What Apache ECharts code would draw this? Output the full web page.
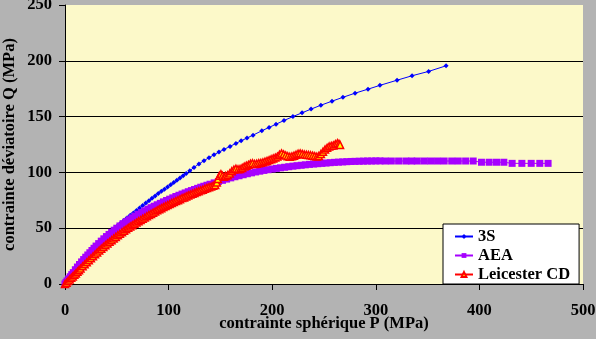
<!DOCTYPE html>
<html>
<head>
<meta charset="utf-8">
<script src="https://cdn.jsdelivr.net/npm/echarts@6/dist/echarts.min.js"></script>
<style>
html,body{margin:0;padding:0;background:#b3b3b3;}
#c{width:596px;height:339px;}
</style>
</head>
<body>
<div id="c"></div>
<script>
// ---- data (MPa) ----
const seriesNames = ['3S', 'AEA', 'Leicester CD'];
const xTicks = [0, 100, 200, 300, 400, 500];
const yTicks = [0, 50, 100, 150, 200, 250];

const p3S = [0,1.5,3,4.5,6,8,10,12,14,16,18,20,22.5,25,27.5,30,33,36,39,42,45,48,51,54,57,60,63,66,69,72,75,78,81,84,87,90,93,96,99,102,105,108,111,114,117,120.5,
  124.5,129.3,134.2,139,143.8,148.6,153.5,159.3,165,170,175.7,181.5,190,197,203.7,211.4,220,228.8,237.5,247,257.7,268.3,280,292.5,304,320.5,335,351,367.8];
const q3S = [0,2,4,6,7.9,10.4,12.8,15.2,17.5,19.7,21.9,24,26.6,29.1,31.6,34,36.8,39.6,42.3,44.9,47.5,50,52.4,54.8,57.1,59.3,61.5,63.7,65.9,68.1,70.3,72.5,74.7,76.8,78.9,81,83,85,87,89,91,93,95,97,99,101.5,
  104.5,107.6,110.5,113.2,115.8,118.2,120.6,123.3,126,128.3,130.8,133.4,137.3,140.3,143.2,146.5,150,153.4,156.7,160.2,163.8,167.3,171,174.6,178,182.6,186.6,190.5,195.5];

const pAEA = [0,1,2,3.5,5,6.5,8,10,12,14,16,18,20,22,24,26,28,30,32.5,35,37.5,40,42.5,45,47.5,50,53,56,59,62,65,68,71,74,77,80,83,86,89,92,95,98,101,104,107,110,113,116,119,122,125,128,131,134,137,140,144,148,152,156,160,164,168,172,176,180,184,188,192,196,200,204,208,212,216,220,224,228,232,236,240,244,248,252,256,260,264,268,272,276,280,284,288,292,296,300,304,
  309,315,322,329,334.6,340,346.7,353,359.6,366,373.3,379.6,386.7,394,402,409.4,416.5,423.6,431.6,441,450,458.3,466.3];
const qAEA = [0,1.4,2.7,4.6,6.5,8.4,10.2,12.8,15.2,17.5,19.8,21.9,24,26,28,30,32,34,36.2,38.4,40.5,42.5,44.4,46.3,48.2,50,52,54,55.8,57.6,59.3,60.9,62.5,64,65.5,67,68.4,69.7,71,72.3,73.6,74.8,76,77.2,78.4,79.5,80.6,81.6,82.7,83.7,84.7,85.7,86.7,87.6,88.5,89.4,90.6,91.8,92.9,94,95.1,96.1,97,97.9,98.8,99.6,100.4,101.1,101.8,102.4,103,103.6,104.1,104.6,105.1,105.6,106,106.4,106.8,107.2,107.5,107.8,108.1,108.4,108.7,109,109.2,109.4,109.6,109.8,109.9,110,110.1,110.2,110.2,110.3,110.3,
  110.2,110.2,110.2,110.2,110.2,110.2,110.2,110.2,110.2,110.2,110.2,110.2,110.2,110.2,109.1,109.1,109.1,109.1,108.1,108.1,108.1,108.1,108.1];

const pLeic = [0,1.5,3,4.5,6,7.5,9,10.5,12,13.5,15,17,19,21,23,25,27,29,31,33,35,37,39,41,43,45,47,49,51,53,55,57,59,61,63,65,67,69,71,73,75,77,79,81,83,85,87,89,91,93,95,97,99,101,103,105,107,109,111,113,115,117,119,121,123,125,127,129,131,133,135,137,139,141,143,145,146.5,147.5,149,150.5,152,153.5,155,157,159,161,163,165,167,169,171,173,175,177,179,181,183,185,187,189,191,193,195,197,199,201,203,205,207,209,211,213,215,217,219,221,223,225,227,229,231,233,235,237,239,241,243,245,247,249,251,253,255,257,259,261,263,264.5,265.5];
const qLeic = [0,1.2,2.8,4,5.5,6.8,8.2,9.5,11,12.3,13.8,15.8,17.6,19.4,21.2,23,24.8,26.6,28.3,30,31.6,33.2,34.8,36.3,37.8,39.3,40.8,42.2,43.7,45,46.4,47.8,49,50.3,51.5,52.6,53.9,55,56.2,57.3,58.5,59.5,60.7,61.8,62.8,63.9,64.9,66,67,67.9,68.9,69.8,70.7,71.6,72.6,73.4,74.3,75.1,76,77,77.6,78.5,79.4,80.1,80.9,81.6,82.4,83.1,83.9,84.5,85.4,86.1,86.8,87.3,88,88.8,91,94,97,98.5,97,96,96.8,97.5,99,101,102.5,103.3,102.8,103,104,105.2,106,106.8,107.8,108.2,107.5,107.8,108.3,108.6,109,109.7,110.3,111,111.8,112.5,113.3,114.2,115.8,117,116.2,115.2,114.5,114,114.4,115,115.8,116.7,117.1,116.6,116,115.8,115.6,115.4,115,114.6,114.2,114.8,116.5,118.5,120.5,122,123.2,123.8,124.2,125.4,126.2,125.6,124.6];

function zip(a, b) { return a.map((v, i) => [v, b[i]]); }

const chart = echarts.init(document.getElementById('c'), null, {renderer: 'canvas'});
const serif = '"Liberation Serif", "Times New Roman", serif';
const txt = {fontFamily: serif, fontSize: 16.5, fontWeight: 'bold', color: '#000'};

chart.setOption({
  animation: false,
  backgroundColor: '#b3b3b3',
  textStyle: {fontFamily: serif},
  grid: {
    left: 65, right: 13, top: 5, bottom: 55,
    containLabel: false, outerBoundsMode: 'none',
    show: true, backgroundColor: '#fcf9c9', borderWidth: 0
  },
  legend: {
    orient: 'vertical',
    left: 443, top: 224,
    padding: [4, 9, 1, 11],
    itemGap: 2,
    itemWidth: 18,
    itemHeight: 6,
    backgroundColor: '#ffffff',
    borderColor: '#000000',
    borderWidth: 1,
    borderRadius: 0,
    textStyle: Object.assign({}, txt, {lineHeight: 17}),
    data: seriesNames
  },
  xAxis: {
    type: 'value',
    min: xTicks[0], max: xTicks[xTicks.length - 1], interval: 100,
    name: 'contrainte sphérique P (MPa)',
    nameLocation: 'middle',
    nameGap: 31,
    nameMoveOverlap: false,
    nameTextStyle: txt,
    axisLine: {show: true, onZero: false, lineStyle: {color: '#000', width: 1}},
    axisTick: {show: true, inside: false, length: 6, lineStyle: {color: '#000'}},
    axisLabel: Object.assign({}, txt, {margin: 18, showMinLabel: true, showMaxLabel: true}),
    splitLine: {show: false}
  },
  yAxis: {
    type: 'value',
    min: yTicks[0], max: yTicks[yTicks.length - 1], interval: 50,
    name: 'contrainte déviatoire Q (MPa)',
    nameLocation: 'middle',
    nameGap: 47,
    nameMoveOverlap: false,
    nameTextStyle: txt,
    axisLine: {show: true, onZero: false, lineStyle: {color: '#000', width: 1}},
    axisTick: {show: true, inside: false, length: 6, lineStyle: {color: '#000'}},
    axisLabel: Object.assign({}, txt, {margin: 13, showMinLabel: true, showMaxLabel: true}),
    splitLine: {show: true, showMinLine: false, showMaxLine: false, lineStyle: {color: '#000', width: 1}}
  },
  series: [
    {
      name: seriesNames[0], type: 'line', data: zip(p3S, q3S),
      symbol: 'diamond', symbolSize: 5, showAllSymbol: true,
      lineStyle: {color: '#0000ff', width: 1},
      itemStyle: {color: '#0000ff', borderWidth: 0},
      z: 3
    },
    {
      name: seriesNames[1], type: 'line', data: zip(pAEA, qAEA),
      symbol: 'rect', symbolSize: 7, showAllSymbol: true,
      lineStyle: {color: '#a600ff', width: 1},
      itemStyle: {color: '#a600ff', borderWidth: 0},
      z: 4
    },
    {
      name: seriesNames[2], type: 'line', data: zip(pLeic, qLeic),
      symbol: 'triangle', symbolSize: 7, showAllSymbol: true,
      lineStyle: {color: '#ff0000', width: 1},
      itemStyle: {color: '#ffff00', borderColor: '#ff0000', borderWidth: 1.5},
      z: 5
    }
  ]
});
</script>
</body>
</html>
